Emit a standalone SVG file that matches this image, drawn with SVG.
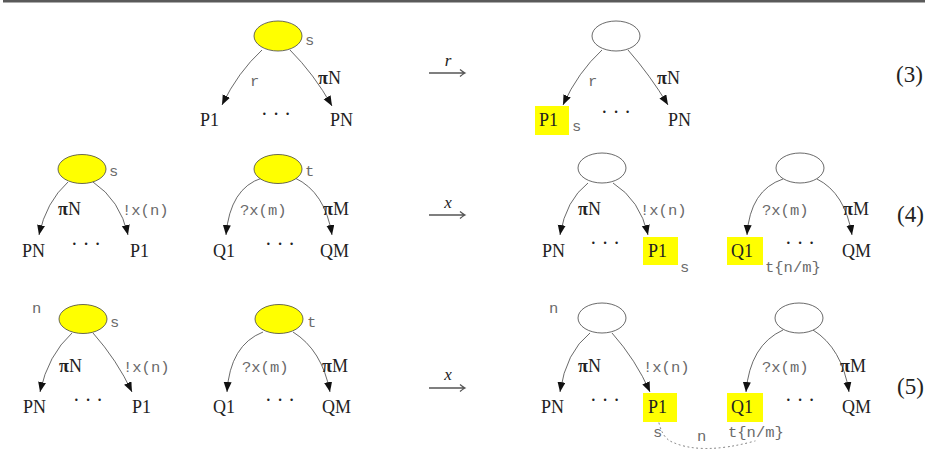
<svg xmlns="http://www.w3.org/2000/svg" width="930" height="453" viewBox="0 0 930 453">
<defs>
<marker id="ah" markerUnits="userSpaceOnUse" markerWidth="12" markerHeight="10" refX="10" refY="4" orient="auto">
<path d="M0,0 L10,4 L0,8 Z" fill="#111"/>
</marker>
<style>
.bg{fill:#fff}
.rule{fill:#5a5a5a}
.ys{fill:#ffff00;stroke:#444;stroke-width:0.8}
.ws{fill:#fff;stroke:#444;stroke-width:0.8}
.hl{fill:#ffff00}
.edge{fill:none;stroke:#444;stroke-width:0.8;marker-end:url(#ah)}
.lbl{font-family:"Liberation Serif","DejaVu Serif",serif;font-size:18px;fill:#222}
.pi{font-family:"Liberation Serif","DejaVu Serif",serif;font-size:18px;fill:#222}
.mono{font-family:"Liberation Mono","DejaVu Sans Mono",monospace;font-size:15.5px;fill:#6a6a6a}
.dots{font-family:"Liberation Serif","DejaVu Serif",serif;font-size:20px;fill:#222;text-anchor:middle}
.eq{font-family:"Liberation Serif","DejaVu Serif",serif;font-size:23px;fill:#222}
.it{font-family:"Liberation Serif","DejaVu Serif",serif;font-size:17px;font-style:italic;fill:#222;text-anchor:middle}
.tr{fill:none;stroke:#555;stroke-width:1.3}
.dotted{fill:none;stroke:#777;stroke-width:1;stroke-dasharray:1 3.5;stroke-linecap:round}
</style>
</defs>
<rect class="bg" x="0" y="0" width="930" height="453"/>
<rect class="rule" x="3" y="0" width="922" height="2.5"/>

<!-- connectors -->
<g id="connectors">
<path class="edge" d="M262,50 Q238,72 222,105"/>
<path class="edge" d="M290,50 Q314,74 332,106"/>
<path class="edge" d="M602,50 Q578,72 563,105"/>
<path class="edge" d="M628,50 Q650,75 668,105"/>

<path class="edge" d="M68,182 Q46,202 39,235"/>
<path class="edge" d="M93,182 Q120,200 128,235"/>
<path class="edge" d="M262,178 Q230,188 226,235"/>
<path class="edge" d="M295,178 Q325,192 332,235"/>
<path class="edge" d="M588,183 Q566,200 560,235"/>
<path class="edge" d="M613,183 Q640,200 648,235"/>
<path class="edge" d="M783,179 Q750,190 747,235"/>
<path class="edge" d="M817,179 Q845,193 852,235"/>

<path class="edge" d="M72,333 Q48,355 40,392"/>
<path class="edge" d="M93,333 Q117,360 132,392"/>
<path class="edge" d="M263,332 Q230,345 227,392"/>
<path class="edge" d="M293,332 Q322,350 330,392"/>
<path class="edge" d="M590,333 Q566,352 560,392"/>
<path class="edge" d="M612,333 Q636,360 650,392"/>
<path class="edge" d="M783,330 Q750,345 746,392"/>
<path class="edge" d="M813,330 Q842,348 849,392"/>

<path class="dotted" d="M659,423 Q662,436 670,441 Q700,456 755,441"/>

<path class="tr" d="M429,73 H465 M460,69.5 Q463,72 465,73 Q463,74 460,76.5"/>
<path class="tr" d="M429,215 H465 M460,211.5 Q463,214 465,215 Q463,216 460,218.5"/>
<path class="tr" d="M429,388 H465 M460,384.5 Q463,387 465,388 Q463,389 460,391.5"/>
</g>

<!-- row (3) -->
<g id="r3-left-root"><ellipse class="ys" cx="278" cy="36" rx="24" ry="15"/><text class="mono" x="305" y="45">s</text></g>
<g id="r3-left-edges"><text class="mono" x="250" y="86">r</text><text class="pi" x="318" y="84"><tspan font-weight="bold">π</tspan>N</text></g>
<g id="r3-left-P1"><text class="lbl" x="200" y="126">P1</text></g>
<g id="r3-left-dots"><text class="dots" x="276" y="121">· · ·</text></g>
<g id="r3-left-PN"><text class="lbl" x="330" y="126">PN</text></g>
<g id="r3-step"><text class="it" x="448" y="66">r</text></g>
<g id="r3-right-root"><ellipse class="ws" cx="616" cy="36" rx="24" ry="15"/></g>
<g id="r3-right-edges"><text class="mono" x="588" y="86">r</text><text class="pi" x="657" y="84"><tspan font-weight="bold">π</tspan>N</text></g>
<g id="r3-right-P1"><rect class="hl" x="535" y="106" width="34" height="29"/><text class="lbl" x="539" y="126">P1</text><text class="mono" x="572" y="131">s</text></g>
<g id="r3-right-dots"><text class="dots" x="616" y="119">· · ·</text></g>
<g id="r3-right-PN"><text class="lbl" x="668" y="126">PN</text></g>
<g id="eq3"><text class="eq" x="896" y="82">(3)</text></g>

<!-- row (4) -->
<g id="r4-s-root"><ellipse class="ys" cx="82" cy="169" rx="24" ry="14.5"/><text class="mono" x="109" y="176">s</text></g>
<g id="r4-s-edges"><text class="pi" x="58" y="215"><tspan font-weight="bold">π</tspan>N</text><text class="mono" x="122" y="215">!x(n)</text></g>
<g id="r4-s-PN"><text class="lbl" x="22" y="257">PN</text></g>
<g id="r4-s-dots"><text class="dots" x="86" y="251">· · ·</text></g>
<g id="r4-s-P1"><text class="lbl" x="130" y="257">P1</text></g>
<g id="r4-t-root"><ellipse class="ys" cx="278" cy="169" rx="24" ry="14.5"/><text class="mono" x="305" y="176">t</text></g>
<g id="r4-t-edges"><text class="mono" x="240" y="215">?x(m)</text><text class="pi" x="323" y="215"><tspan font-weight="bold">π</tspan>M</text></g>
<g id="r4-t-Q1"><text class="lbl" x="213" y="257">Q1</text></g>
<g id="r4-t-dots"><text class="dots" x="280" y="251">· · ·</text></g>
<g id="r4-t-QM"><text class="lbl" x="320" y="257">QM</text></g>
<g id="r4-step"><text class="it" x="448" y="208">x</text></g>
<g id="r4-s2-root"><ellipse class="ws" cx="602" cy="168" rx="24" ry="15"/></g>
<g id="r4-s2-edges"><text class="pi" x="578" y="215"><tspan font-weight="bold">π</tspan>N</text><text class="mono" x="640" y="215">!x(n)</text></g>
<g id="r4-s2-PN"><text class="lbl" x="542" y="257">PN</text></g>
<g id="r4-s2-dots"><text class="dots" x="605" y="250">· · ·</text></g>
<g id="r4-s2-P1"><rect class="hl" x="643" y="237" width="35" height="28"/><text class="lbl" x="648" y="257">P1</text><text class="mono" x="680" y="272">s</text></g>
<g id="r4-t2-root"><ellipse class="ws" cx="800" cy="168" rx="24" ry="15"/></g>
<g id="r4-t2-edges"><text class="mono" x="762" y="215">?x(m)</text><text class="pi" x="843" y="215"><tspan font-weight="bold">π</tspan>M</text></g>
<g id="r4-t2-Q1"><rect class="hl" x="727" y="237" width="36" height="28"/><text class="lbl" x="731" y="257">Q1</text><text class="mono" x="765" y="272">t{n/m}</text></g>
<g id="r4-t2-dots"><text class="dots" x="800" y="250">· · ·</text></g>
<g id="r4-t2-QM"><text class="lbl" x="842" y="257">QM</text></g>
<g id="eq4"><text class="eq" x="897" y="222">(4)</text></g>

<!-- row (5) -->
<g id="r5-s-root"><text class="mono" x="32" y="313">n</text><ellipse class="ys" cx="83" cy="319" rx="24" ry="14.5"/><text class="mono" x="110" y="327">s</text></g>
<g id="r5-s-edges"><text class="pi" x="59" y="372"><tspan font-weight="bold">π</tspan>N</text><text class="mono" x="123" y="372">!x(n)</text></g>
<g id="r5-s-PN"><text class="lbl" x="23" y="413">PN</text></g>
<g id="r5-s-dots"><text class="dots" x="88" y="407">· · ·</text></g>
<g id="r5-s-P1"><text class="lbl" x="132" y="413">P1</text></g>
<g id="r5-t-root"><ellipse class="ys" cx="279" cy="319" rx="24" ry="14.5"/><text class="mono" x="307" y="327">t</text></g>
<g id="r5-t-edges"><text class="mono" x="242" y="372">?x(m)</text><text class="pi" x="322" y="372"><tspan font-weight="bold">π</tspan>M</text></g>
<g id="r5-t-Q1"><text class="lbl" x="213" y="413">Q1</text></g>
<g id="r5-t-dots"><text class="dots" x="280" y="407">· · ·</text></g>
<g id="r5-t-QM"><text class="lbl" x="322" y="413">QM</text></g>
<g id="r5-step"><text class="it" x="448" y="380">x</text></g>
<g id="r5-s2-root"><text class="mono" x="549" y="313">n</text><ellipse class="ws" cx="602" cy="318" rx="24" ry="15"/></g>
<g id="r5-s2-edges"><text class="pi" x="578" y="372"><tspan font-weight="bold">π</tspan>N</text><text class="mono" x="643" y="372">!x(n)</text></g>
<g id="r5-s2-PN"><text class="lbl" x="541" y="413">PN</text></g>
<g id="r5-s2-dots"><text class="dots" x="605" y="407">· · ·</text></g>
<g id="r5-s2-P1"><rect class="hl" x="643" y="393" width="34" height="29"/><text class="lbl" x="648" y="413">P1</text><text class="mono" x="653" y="437">s</text></g>
<g id="r5-t2-root"><ellipse class="ws" cx="799" cy="318" rx="24" ry="15"/></g>
<g id="r5-t2-edges"><text class="mono" x="762" y="372">?x(m)</text><text class="pi" x="840" y="372"><tspan font-weight="bold">π</tspan>M</text></g>
<g id="r5-t2-Q1"><rect class="hl" x="727" y="393" width="36" height="29"/><text class="lbl" x="731" y="413">Q1</text><text class="mono" x="728" y="437">t{n/m}</text></g>
<g id="r5-t2-dots"><text class="dots" x="800" y="407">· · ·</text></g>
<g id="r5-t2-QM"><text class="lbl" x="842" y="413">QM</text></g>
<g id="r5-link"><text class="mono" x="697" y="441">n</text></g>
<g id="eq5"><text class="eq" x="897" y="394">(5)</text></g>
</svg>
